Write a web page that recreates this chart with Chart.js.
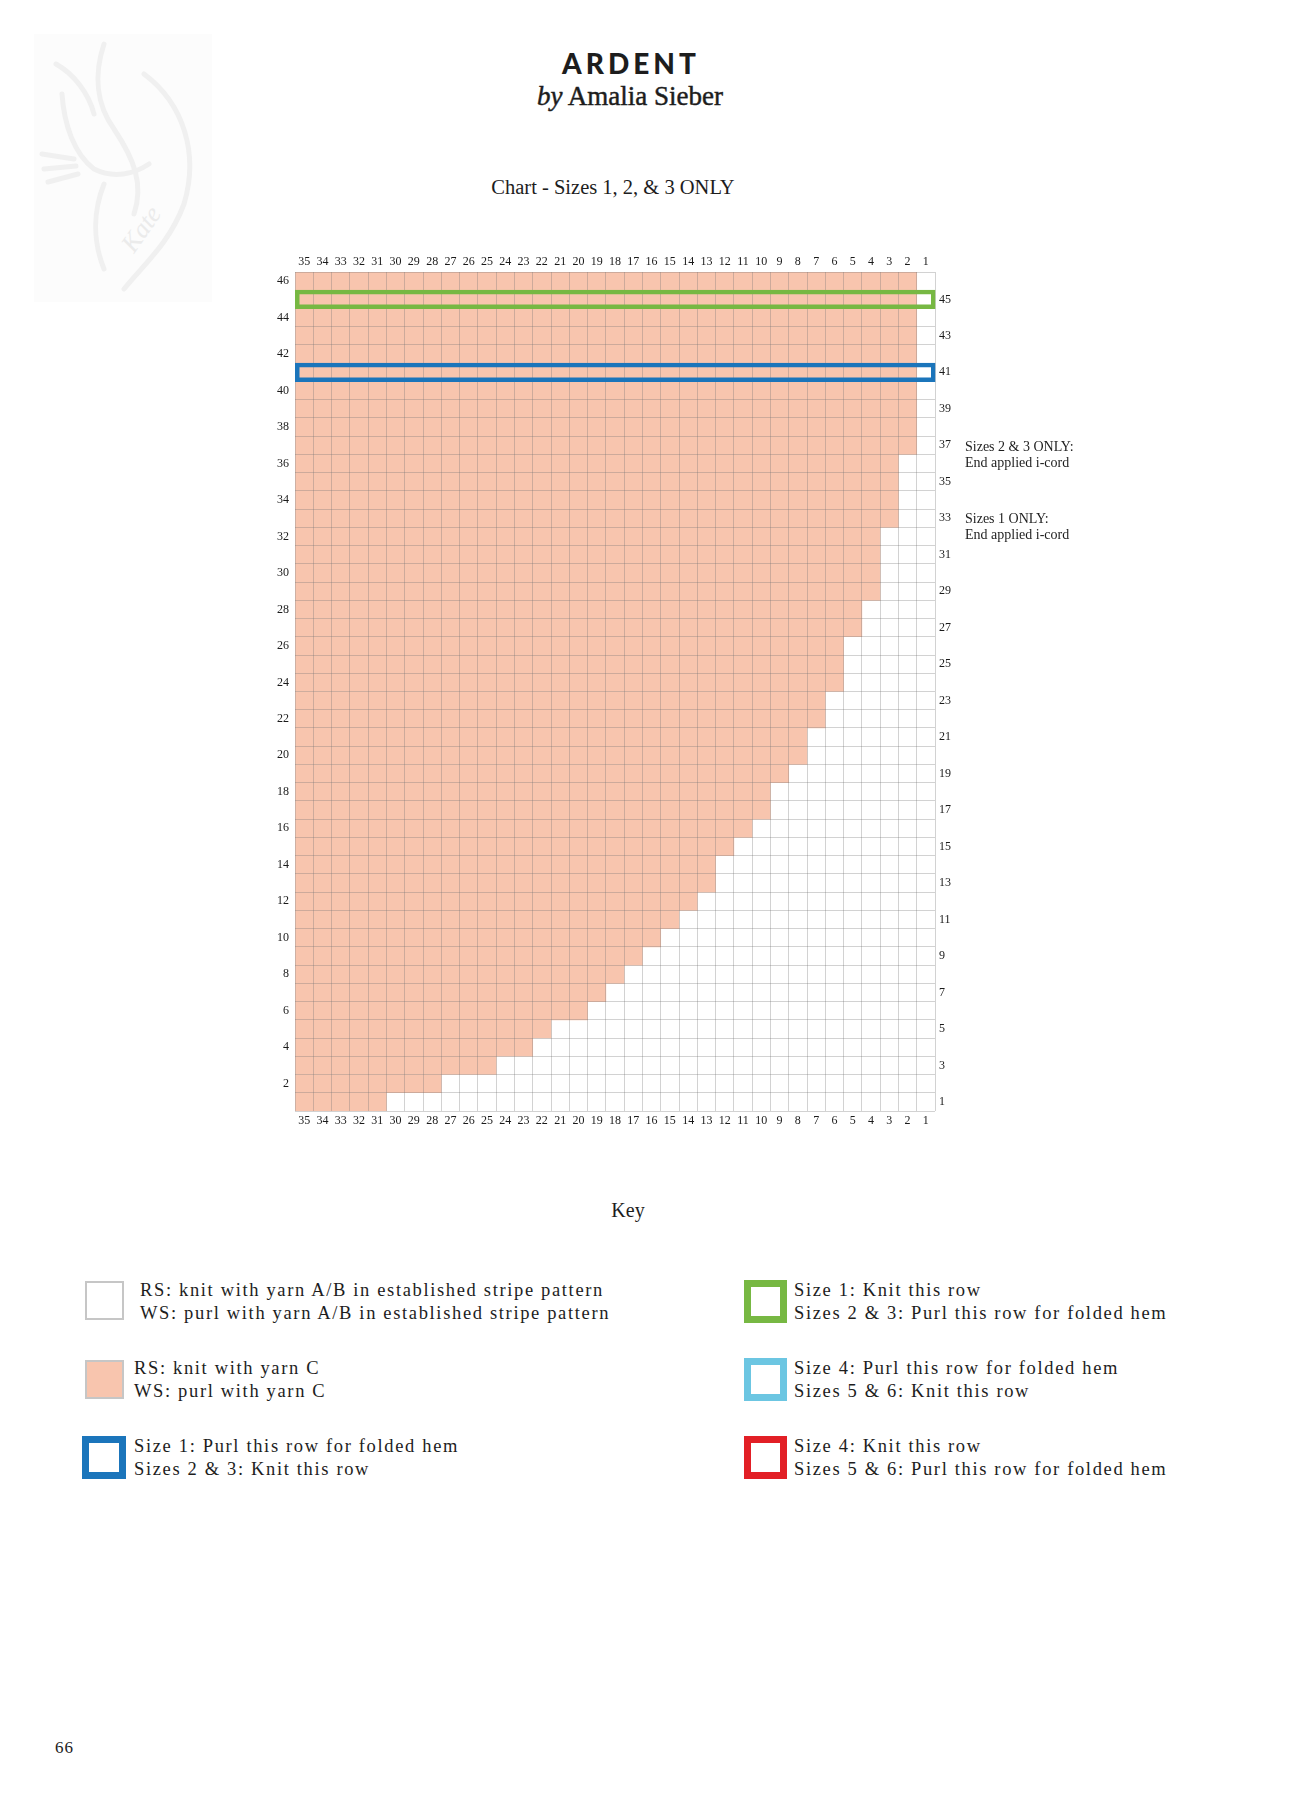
<!DOCTYPE html>
<html>
<head>
<meta charset="utf-8">
<title>Ardent - Chart Sizes 1, 2, & 3</title>
<script src="https://cdn.jsdelivr.net/npm/chart.js@4.4.1/dist/chart.umd.min.js"></script>
<style>
  html, body { margin: 0; padding: 0; background: #fff; }
  body {
    width: 1290px; height: 1797px; position: relative; overflow: hidden;
    font-family: "Liberation Serif", "DejaVu Serif", serif; color: #1d1d1d;
  }
  .abs { position: absolute; white-space: nowrap; }
  .center { transform: translateX(-50%); }
  #title { left: 631px; top: 49px; font-family: Lato, "Open Sans", sans-serif; font-weight: 900; font-size: 28px; line-height: 28px; letter-spacing: 4px; }
  #author { left: 630px; top: 81px; font-size: 27px; line-height: 30px; -webkit-text-stroke: 0.45px #1d1d1d; }
  #subtitle { left: 613px; top: 175px; font-size: 20.5px; line-height: 24px; }
  #chartBox { position: absolute; left: 0; top: 200px; width: 1290px; height: 960px; }
  .note { font-size: 14px; line-height: 16px; left: 965px; }
  #keyTitle { left: 628px; top: 1198px; font-size: 20px; line-height: 24px; }
  .swatch { position: absolute; box-sizing: border-box; }
  .keyText { font-size: 18.5px; line-height: 22.5px; letter-spacing: 1.65px; }
  #page { left: 55px; top: 1738px; font-size: 17px; line-height: 20px; letter-spacing: 1px; }
  #mark { position: absolute; left: 34px; top: 34px; width: 178px; height: 268px; background: #fcfcfc; }
</style>
</head>
<body>

<div id="mark">
  <svg width="178" height="268" viewBox="0 0 178 268">
    <g fill="none" stroke="#f0f0f0" stroke-width="5" stroke-linecap="round">
      <path d="M22 30 C40 40 55 60 60 80" />
      <path d="M70 10 C60 40 62 70 80 95 C100 125 110 150 100 180" />
      <path d="M110 40 C150 70 165 120 150 170 C135 210 110 230 90 255" />
      <path d="M28 60 C30 90 40 120 60 135 C80 145 100 140 115 130" />
      <path d="M8 120 L40 125 M10 135 L42 132 M14 148 L44 140" />
      <path d="M70 150 C60 175 58 205 70 235" />
    </g>
    <text x="100" y="220" transform="rotate(-55 100 220)" font-family="Liberation Serif" font-style="italic" font-size="26" fill="#ebebeb">Kate</text>
  </svg>
</div>

<div id="title" class="abs center">ARDENT</div>
<div id="author" class="abs center"><i>by</i> Amalia Sieber</div>
<div id="subtitle" class="abs center">Chart - Sizes 1, 2, &amp; 3 ONLY</div>

<div id="chartBox"><canvas id="knitChart"></canvas></div>

<div class="abs note" style="top:439px;">Sizes 2 &amp; 3 ONLY:<br>End applied i-cord</div>
<div class="abs note" style="top:511px;">Sizes 1 ONLY:<br>End applied i-cord</div>

<div id="keyTitle" class="abs center">Key</div>

<div class="swatch" style="left:85px; top:1281px; width:39px; height:39px; border:2px solid #c6c6c6; background:#fff;"></div>
<div class="abs keyText" style="left:140px; top:1279px;">RS: knit with yarn A/B in established stripe pattern<br>WS: purl with yarn A/B in established stripe pattern</div>

<div class="swatch" style="left:85px; top:1360px; width:39px; height:39px; border:2px solid #c6c6c6; background:#f8c5ae;"></div>
<div class="abs keyText" style="left:134px; top:1357px;">RS: knit with yarn C<br>WS: purl with yarn C</div>

<div class="swatch" style="left:82px; top:1436px; width:44px; height:43px; border:7px solid #1b75bb; background:#fff;"></div>
<div class="abs keyText" style="left:134px; top:1435px;">Size 1: Purl this row for folded hem<br>Sizes 2 &amp; 3: Knit this row</div>

<div class="swatch" style="left:744px; top:1280px; width:43px; height:43px; border:7px solid #77b843; background:#fff;"></div>
<div class="abs keyText" style="left:794px; top:1279px;">Size 1: Knit this row<br>Sizes 2 &amp; 3: Purl this row for folded hem</div>

<div class="swatch" style="left:744px; top:1358px; width:43px; height:43px; border:7px solid #6cc6e2; background:#fff;"></div>
<div class="abs keyText" style="left:794px; top:1357px;">Size 4: Purl this row for folded hem<br>Sizes 5 &amp; 6: Knit this row</div>

<div class="swatch" style="left:744px; top:1436px; width:43px; height:43px; border:7px solid #e21f26; background:#fff;"></div>
<div class="abs keyText" style="left:794px; top:1435px;">Size 4: Knit this row<br>Sizes 5 &amp; 6: Purl this row for folded hem</div>

<div id="page" class="abs">66</div>

<script>
// rows counted from the bottom (row 1) to the top (row 46)
const rowNumbers = [1, 2, 3, 4, 5, 6, 7, 8, 9, 10, 11, 12, 13, 14, 15, 16, 17, 18, 19, 20, 21, 22, 23,
  24, 25, 26, 27, 28, 29, 30, 31, 32, 33, 34, 35, 36, 37, 38, 39, 40, 41, 42, 43, 44, 45, 46];

// stitch numbers, read left to right
const stitchNumbers = [35, 34, 33, 32, 31, 30, 29, 28, 27, 26, 25, 24, 23, 22, 21, 20, 19, 18,
  17, 16, 15, 14, 13, 12, 11, 10, 9, 8, 7, 6, 5, 4, 3, 2, 1];

// stitches worked in yarn C (pink, from the left edge), per row
const yarnC = [5, 8, 11, 13, 14, 16, 17, 18, 19, 20, 21, 22, 23, 23, 24, 25, 26, 26, 27, 28, 28, 29, 29,
  30, 30, 30, 31, 31, 32, 32, 32, 32, 33, 33, 33, 33, 34, 34, 34, 34, 34, 34, 34, 34, 34, 34];

// stitches worked in yarn A/B (white, at the right edge), per row
const yarnAB = [30, 27, 24, 22, 21, 19, 18, 17, 16, 15, 14, 13, 12, 12, 11, 10, 9, 9, 8, 7, 7, 6, 6,
  5, 5, 5, 4, 4, 3, 3, 3, 3, 2, 2, 2, 2, 1, 1, 1, 1, 1, 1, 1, 1, 1, 1];

const totalStitches = 35;
const greenRow = 45;  // Size 1: knit / Sizes 2 & 3: purl for folded hem
const blueRow = 41;   // Size 1: purl for folded hem / Sizes 2 & 3: knit

const pink = '#f8c5ae';
const gridColor = 'rgba(115, 115, 115, 0.32)';
const tickFont = { family: 'Liberation Serif', size: 12 };
const tickColor = '#1a1a1a';

function outlineData(row) {
  return rowNumbers.map(r => (r === row ? totalStitches : null));
}

// draw the hem outlines again after the grid lines so they sit on top
const outlinesOnTop = {
  id: 'outlinesOnTop',
  afterDraw(chart) {
    chart.data.datasets.forEach((ds, i) => {
      if (ds.outlineRow) chart.getDatasetMeta(i).controller.draw();
    });
  }
};

const knitData = {
  labels: rowNumbers,
  datasets: [
    {
      label: 'Yarn C',
      data: yarnC,
      backgroundColor: pink,
      borderWidth: 0,
      stack: 'rows',
      xAxisID: 'x',
      yAxisID: 'y'
    },
    {
      label: 'Yarn A/B',
      data: yarnAB,
      backgroundColor: '#ffffff',
      borderWidth: 0,
      stack: 'rows',
      xAxisID: 'x',
      yAxisID: 'y'
    },
    {
      label: 'Size 1 knit row',
      data: outlineData(greenRow),
      outlineRow: greenRow,
      backgroundColor: 'transparent',
      borderColor: '#77b843',
      borderWidth: 3.5,
      borderSkipped: false,
      inflateAmount: 0.5,
      grouped: false,
      stack: 'green',
      xAxisID: 'x',
      yAxisID: 'y'
    },
    {
      label: 'Size 1 purl row',
      data: outlineData(blueRow),
      outlineRow: blueRow,
      backgroundColor: 'transparent',
      borderColor: '#1b75bb',
      borderWidth: 3.5,
      borderSkipped: false,
      inflateAmount: 0.5,
      grouped: false,
      stack: 'blue',
      xAxisID: 'x',
      yAxisID: 'y'
    }
  ]
};

const knitConfig = {
  type: 'bar',
  data: knitData,
  options: {
    indexAxis: 'y',
    responsive: true,
    maintainAspectRatio: false,
    animation: false,
    events: [],
    barPercentage: 1,
    categoryPercentage: 1,
    layout: {
      padding: { top: 42, bottom: 19, left: 255, right: 315 }
    },
    plugins: {
      legend: { display: false },
      tooltip: { enabled: false }
    },
    scales: {
      x: {
        type: 'linear',
        stacked: true,
        min: 0,
        max: totalStitches,
        position: 'bottom',
        ticks: { display: false, stepSize: 1 },
        grid: { color: gridColor, lineWidth: 1, drawTicks: false, z: 1 },
        border: { display: false },
        afterFit: s => { s.height = 0; }
      },
      xTop: {
        type: 'category',
        labels: stitchNumbers,
        position: 'top',
        offset: true,
        grid: { display: false, drawTicks: false },
        border: { display: false },
        ticks: { font: tickFont, color: tickColor, padding: 3, autoSkip: false, maxRotation: 0 },
        afterFit: s => { s.height = 30; }
      },
      xBottom: {
        type: 'category',
        labels: stitchNumbers,
        position: 'bottom',
        offset: true,
        grid: { display: false, drawTicks: false },
        border: { display: false },
        ticks: { font: tickFont, color: tickColor, padding: 3, autoSkip: false, maxRotation: 0 },
        afterFit: s => { s.height = 30; }
      },
      y: {
        type: 'category',
        reverse: true,
        position: 'left',
        offset: true,
        grid: { color: gridColor, lineWidth: 1, drawTicks: false, offset: true, z: 1 },
        border: { display: false },
        ticks: {
          font: tickFont, color: tickColor, padding: 6, autoSkip: false,
          callback: value => (rowNumbers[value] % 2 === 0 ? rowNumbers[value] : '')
        },
        afterFit: s => { s.width = 40; }
      },
      y2: {
        type: 'category',
        reverse: true,
        position: 'right',
        offset: true,
        grid: { display: false, drawTicks: false },
        border: { display: false },
        ticks: {
          font: tickFont, color: tickColor, padding: 4, autoSkip: false,
          callback: value => (rowNumbers[value] % 2 === 1 ? rowNumbers[value] : '')
        },
        afterFit: s => { s.width = 40; }
      }
    }
  },
  plugins: [outlinesOnTop]
};

const knitChart = new Chart(document.getElementById('knitChart'), knitConfig);
</script>
</body>
</html>
